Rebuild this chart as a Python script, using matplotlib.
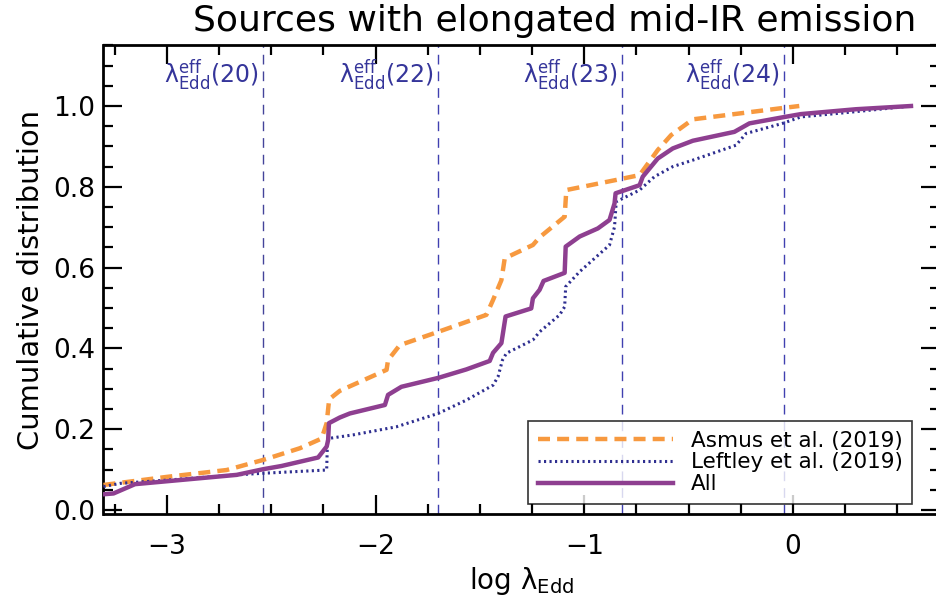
import matplotlib
matplotlib.use("Agg")
import matplotlib.pyplot as plt
from matplotlib.ticker import MultipleLocator

# ---- data ----
all_x = [-3.303, -3.255, -3.152, -2.665, -2.538, -2.45, -2.275, -2.234, -2.227, -2.223,
         -2.171, -2.123, -1.955, -1.940, -1.876, -1.70, -1.565, -1.453, -1.437, -1.397,
         -1.377, -1.254, -1.246, -1.214, -1.195, -1.094, -1.089, -1.022, -0.935, -0.879,
         -0.855, -0.85, -0.735, -0.72, -0.648, -0.576, -0.48, -0.281, -0.209, -0.05,
         0.038, 0.301, 0.565]
all_y = [0.039, 0.041, 0.064, 0.087, 0.101, 0.109, 0.130, 0.157, 0.173, 0.215,
         0.229, 0.239, 0.260, 0.285, 0.305, 0.327, 0.348, 0.369, 0.389, 0.413,
         0.479, 0.499, 0.524, 0.545, 0.567, 0.587, 0.652, 0.677, 0.697, 0.718,
         0.759, 0.784, 0.804, 0.825, 0.870, 0.895, 0.914, 0.936, 0.957, 0.972,
         0.980, 0.992, 1.0]

asmus_x = [-3.303, -3.0, -2.713, -2.538, -2.362, -2.258, -2.234, -2.222, -2.171, -1.947,
           -1.94, -1.884, -1.70, -1.469, -1.437, -1.397, -1.381, -1.246, -1.214, -1.094,
           -1.086, -0.847, -0.735, -0.648, -0.584, -0.48, -0.066, 0.030]
asmus_y = [0.062, 0.082, 0.099, 0.124, 0.153, 0.177, 0.215, 0.274, 0.295, 0.347,
           0.371, 0.408, 0.441, 0.483, 0.520, 0.569, 0.623, 0.656, 0.675, 0.726,
           0.792, 0.817, 0.829, 0.891, 0.928, 0.967, 0.994, 1.0]

leftley_x = [-3.303, -3.223, -3.0, -2.665, -2.538, -2.234, -2.230, -2.227, -2.107, -1.90,
             -1.70, -1.565, -1.437, -1.413, -1.392, -1.373, -1.246, -1.214, -1.118, -1.094,
             -1.089, -1.022, -0.879, -0.855, -0.847, -0.735, -0.664, -0.576, -0.48, -0.273,
             -0.225, -0.05, 0.038, 0.301, 0.565]
leftley_y = [0.058, 0.066, 0.074, 0.087, 0.091, 0.099, 0.173, 0.177, 0.186, 0.206,
             0.239, 0.272, 0.309, 0.330, 0.371, 0.388, 0.421, 0.441, 0.483, 0.503,
             0.553, 0.590, 0.656, 0.701, 0.763, 0.792, 0.825, 0.850, 0.866, 0.903,
             0.932, 0.957, 0.973, 0.986, 1.0]

vline_x = [-2.538, -1.70, -0.818, -0.045]
vline_labels = ["20", "22", "23", "24"]
vline_colors = ["#44449a", "#4040b0", "#4040b0", "#4040b0"]

series_labels = ["Asmus et al. (2019)", "Leftley et al. (2019)", "All"]

# ---- figure ----
plt.rcParams['font.family'] = ['DejaVu Sans']
plt.rcParams['mathtext.fontset'] = 'dejavusans'

W, H = 937, 603
fig = plt.figure(figsize=(W / 100, H / 100), dpi=100)
left, right, bottom, top = 103.5, 940.0, 514.3, 45.0
ax = fig.add_axes([left / W, (H - bottom) / H, (right - left) / W, (bottom - top) / H])

c_or = "#f7993f"
c_bl = "#2e2e90"
c_pu = "#8e3f90"
c_lab = "#35359a"

for xv, lab, col in zip(vline_x, vline_labels, vline_colors):
    ax.axvline(xv, color=col, lw=1.0, ls=(0, (7, 5)), zorder=1)
    ax.text(xv - 0.02, 1.077, r'$\mathrm{\lambda}_{\rm Edd}^{\rm eff}$(' + lab + ')', color=c_lab,
            fontsize=17, ha='right', va='center')

ax.plot(asmus_x, asmus_y, color=c_or, lw=3.2, ls=(0, (2.7, 1.6)), label=series_labels[0], zorder=3)
ax.plot(leftley_x, leftley_y, color=c_bl, lw=2.2, ls=(0, (0.7, 1.1)), label=series_labels[1], zorder=3)
ax.plot(all_x, all_y, color=c_pu, lw=3.2, label=series_labels[2], zorder=4)

ax.set_xlim(-3.303, 0.704)
ax.set_ylim(-0.0106, 1.151)

ax.xaxis.set_major_locator(MultipleLocator(1))
ax.xaxis.set_minor_locator(MultipleLocator(0.25))
ax.yaxis.set_major_locator(MultipleLocator(0.2))
ax.yaxis.set_minor_locator(MultipleLocator(0.05))
ax.yaxis.set_major_formatter(matplotlib.ticker.FormatStrFormatter('%.1f'))
ax.tick_params(which='both', direction='in', top=True, right=True, width=1.6, labelsize=19)
ax.tick_params(which='major', length=14, pad=14)
ax.tick_params(which='minor', length=7)
ax.tick_params(axis='y', which='major', pad=6)
for s in ax.spines.values():
    s.set_linewidth(2)

ax.set_xlabel(r'log $\mathrm{\lambda}_{\rm Edd}$', fontsize=20, labelpad=4)
ax.set_ylabel('Cumulative distribution', fontsize=20.8, labelpad=6)
fig.text(555 / W, 1 - 21 / H, 'Sources with elongated mid-IR emission', fontsize=26,
         ha='center', va='center')

leg = ax.legend(loc='lower right', bbox_to_anchor=(0.972, 0.013), fontsize=15.5, frameon=True,
                fancybox=False, edgecolor='black', handlelength=6.3, borderpad=0.45,
                labelspacing=0.08, handletextpad=0.8, borderaxespad=0.2)
leg.get_frame().set_linewidth(1.2)

fig.savefig("out.png", dpi=100)
